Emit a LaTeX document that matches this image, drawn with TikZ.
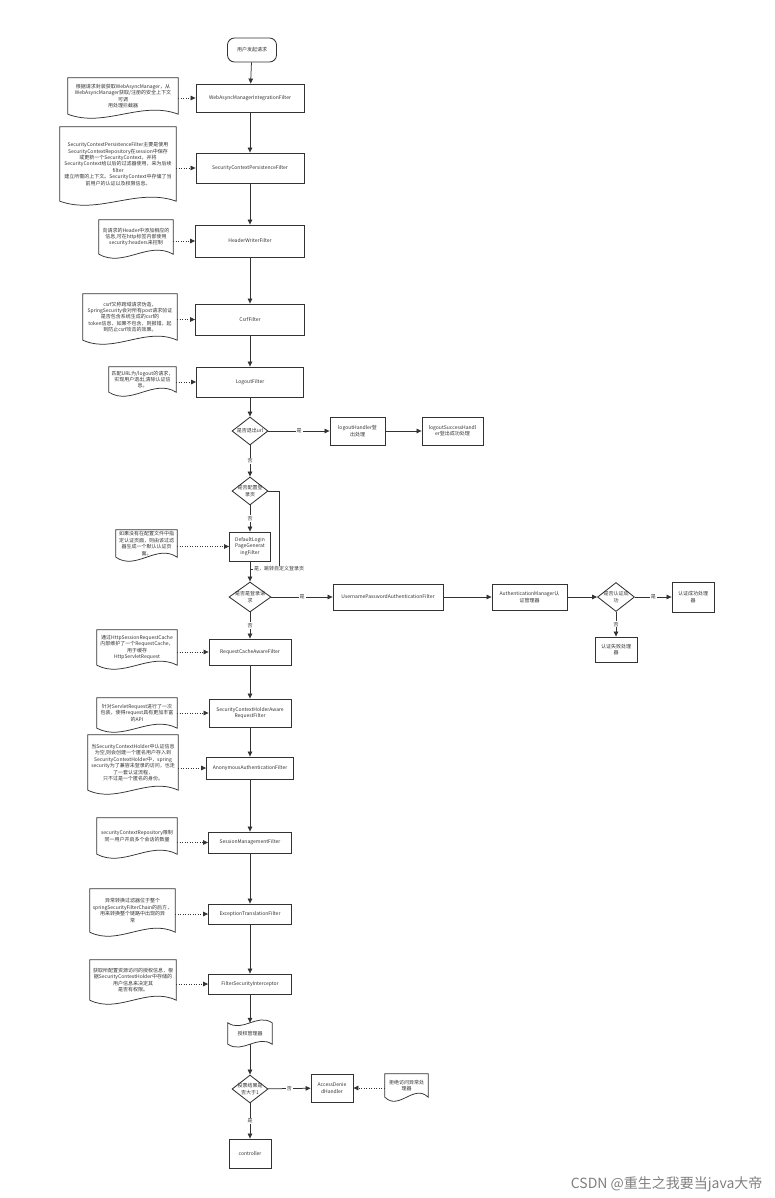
\documentclass[tikz,border=0pt]{standalone}
\usepackage{fontspec}
\newfontfamily\cjk{Noto Sans CJK SC}
\usetikzlibrary{arrows.meta,calc,shapes.geometric}
\definecolor{lc}{HTML}{333333}
\definecolor{tc}{HTML}{333333}
\newcommand\ft{\cjk\fontsize{5.0}{6.4}\selectfont}
\newcommand\docout[1]{\draw[ln,fill=white] (#1.north west) -- (#1.north east) -- (#1.south east)
  .. controls ($(#1.south east)!0.333!(#1.south west)+(0,-14)$) and ($(#1.south east)!0.667!(#1.south west)+(0,14)$) .. (#1.south west) -- cycle;}
\newcommand\tapeout[1]{\draw[ln,fill=white] (#1.north west)
  .. controls ($(#1.north west)!0.333!(#1.north east)+(0,10)$) and ($(#1.north west)!0.667!(#1.north east)+(0,-10)$) .. (#1.north east)
  -- (#1.south east)
  .. controls ($(#1.south east)!0.333!(#1.south west)+(0,-10)$) and ($(#1.south east)!0.667!(#1.south west)+(0,10)$) .. (#1.south west) -- cycle;}
\begin{document}
\begin{tikzpicture}[x=1pt,y=-1pt,
 box/.style={draw=lc,line width=0.85pt,fill=white,font=\ft,text=tc,align=center,inner sep=1pt},
 note/.style={font=\ft,text=tc,align=center,inner sep=1pt},
 dia/.style={diamond,draw=lc,line width=0.85pt,fill=white,inner sep=0pt},
 ln/.style={draw=lc,line width=0.75pt},
 arr/.style={ln,-{Triangle[length=5pt,width=4.5pt]}},
 dot/.style={arr,dash pattern=on 1pt off 1.5pt},
 lab/.style={fill=white,font=\ft,text=tc,inner sep=1pt}]
\useasboundingbox[fill=white] (0,0) rectangle (774,1198);

% ---- main column ----
\node[box,rounded corners=7pt,minimum width=49pt,minimum height=24pt] (st) at (252,50) {用户发起请求};
\node[box,minimum width=108pt,minimum height=28pt] (f1) at (250,98) {WebAsyncManagerIntegrationFilter};
\node[box,minimum width=108pt,minimum height=30pt] (f2) at (250,168) {SecurityContextPersistenceFilter};
\node[box,minimum width=109pt,minimum height=32pt] (f3) at (250,241) {HeaderWriterFilter};
\node[box,minimum width=109pt,minimum height=31pt] (f4) at (250,319.5) {CsrfFilter};
\node[box,minimum width=107pt,minimum height=30pt] (f5) at (250,382) {LogoutFilter};
\node[dia,minimum width=36pt,minimum height=28pt,label={[font=\ft,text=tc]center:是否退出url}] (d1) at (250,431) {};
\node[box,minimum width=55pt,minimum height=28pt] (h1) at (357.5,431) {logoutHandler登\\出处理};
\node[box,minimum width=61pt,minimum height=28pt] (h2) at (452.5,431) {logoutSuccessHandl\\er登出成功处理};
\node[dia,minimum width=36pt,minimum height=28pt,label={[font=\ft,text=tc,align=center]center:是否配置登\\录页}] (d2) at (250,491) {};
\node[box,minimum width=41pt,minimum height=29pt] (f6) at (250,546.5) {DefaultLogin\\PageGenerat\\ingFilter};
\node[dia,minimum width=42pt,minimum height=30pt,label={[font=\ft,text=tc,align=center]center:是否是登录请\\求}] (d3) at (250,597) {};
\node[box,minimum width=110pt,minimum height=26pt] (u1) at (388,597) {UsernamePasswordAuthenticationFilter};
\node[box,minimum width=75pt,minimum height=26pt] (u2) at (529.5,597) {AuthenticationManager认\\证管理器};
\node[dia,minimum width=37pt,minimum height=29pt,label={[font=\ft,text=tc,align=center]center:是否认证成\\功}] (d4) at (616,597) {};
\node[box,minimum width=42pt,minimum height=30pt] (u3) at (693,597) {认证成功处理\\器};
\node[box,minimum width=42pt,minimum height=25pt] (u4) at (616,649.5) {认证失败处理\\器};
\node[box,minimum width=82pt,minimum height=26pt] (f7) at (250,652) {RequestCacheAwareFilter};
\node[box,minimum width=82pt,minimum height=28pt] (f8) at (250,713) {SecurityContextHolderAware\\RequestFilter};
\node[box,minimum width=87pt,minimum height=22pt] (f9) at (250,768) {AnonymousAuthenticationFilter};
\node[box,minimum width=83pt,minimum height=21pt] (f10) at (250,842.5) {SessionManagementFilter};
\node[box,minimum width=83pt,minimum height=20pt] (f11) at (250,914) {ExceptionTranslationFilter};
\node[box,minimum width=83pt,minimum height=20pt] (f12) at (250,984) {FilterSecurityInterceptor};
\node[note,minimum width=44pt,minimum height=21pt] (t1) at (250,1033.5) {};
\tapeout{t1}
\node[note] at (t1) {授权管理器};
\node[dia,minimum width=36pt,minimum height=28pt,label={[font=\ft,text=tc,align=center]center:投票结果是\\否大于1}] (d5) at (250,1089) {};
\node[box,minimum width=42pt,minimum height=28pt] (a1) at (332,1088) {AccessDenie\\dHandler};
\node[box,minimum width=42pt,minimum height=29pt] (c1) at (250,1153.5) {controller};

% ---- notes ----
\node[note,minimum width=110pt,minimum height=36pt] (n1) at (123,96) {};
\docout{n1}
\node[note] at (n1) {根据请求封装获取WebAsyncManager，从\\WebAsyncManager获取/注册的安全上下文\\可调\\用处理拦截器};
\node[note,minimum width=116pt,minimum height=74pt] (n2) at (118,164) {};
\docout{n2}
\node[note] at (n2) {SecurityContextPersistenceFilter主要是使用\\SecurityContextRepository在session中保存\\或更新一个SecurityContext，并将\\SecurityContext给以后的过滤器使用，来为后续\\filter\\建立所需的上下文。SecurityContext中存储了当\\前用户的认证以及权限信息。};
\node[note,minimum width=74pt,minimum height=34pt] (n3) at (136,237) {};
\docout{n3}
\node[note] at (n3) {向请求的Header中添加相应的\\信息,可在http标签内部使用\\security:headers来控制};
\node[note,minimum width=94pt,minimum height=46pt] (n4) at (130,317) {};
\docout{n4}
\node[note] at (n4) {csrf又称跨域请求伪造，\\SpringSecurity会对所有post请求验证\\是否包含系统生成的csrf的\\token信息，如果不包含，则报错。起\\到防止csrf攻击的效果。};
\node[note,minimum width=67pt,minimum height=25pt] (n5) at (142.5,379.5) {};
\docout{n5}
\node[note] at (n5) {匹配URL为/logout的请求，\\实现用户退出,清除认证信\\息。};
\node[note,minimum width=61pt,minimum height=27pt] (n6) at (146.5,543.5) {};
\docout{n6}
\node[note] at (n6) {如果没有在配置文件中指\\定认证页面，则由该过滤\\器生成一个默认认证页\\面。};
\node[note,minimum width=80pt,minimum height=35pt] (n7) at (137,647.5) {};
\docout{n7}
\node[note] at (n7) {通过HttpSessionRequestCache\\内部维护了一个RequestCache，\\用于缓存\\HttpServletRequest};
\node[note,minimum width=80pt,minimum height=30pt] (n8) at (137,713) {};
\docout{n8}
\node[note] at (n8) {针对ServletRequest进行了一次\\包装，使得request具有更加丰富\\的API};
\node[note,minimum width=90pt,minimum height=55pt] (n9) at (133,762.5) {};
\docout{n9}
\node[note] at (n9) {当SecurityContextHolder中认证信息\\为空,则会创建一个匿名用户存入到\\SecurityContextHolder中，spring\\security为了兼容未登录的访问，也走\\了一套认证流程，\\只不过是一个匿名的身份。};
\node[note,minimum width=80pt,minimum height=36pt] (n10) at (137,836) {};
\docout{n10}
\node[note] at (n10) {securityContextRepository限制\\同一用户开启多个会话的数量};
\node[note,minimum width=85pt,minimum height=43pt] (n11) at (132.5,910.5) {};
\docout{n11}
\node[note] at (n11) {异常转换过滤器位于整个\\springSecurityFilterChain的后方，\\用来转换整个链路中出现的异\\常};
\node[note,minimum width=86pt,minimum height=40pt] (n12) at (133,980) {};
\docout{n12}
\node[note] at (n12) {获取所配置资源访问的授权信息，根\\据SecurityContextHolder中存储的\\用户信息来决定其\\是否有权限。};
\node[note,minimum width=43pt,minimum height=23pt] (n13) at (406.5,1085.5) {};
\docout{n13}
\node[note] at (n13) {拒绝访问异常处\\理器};

% ---- connectors ----
\draw[arr] (st) -- (f1);
\draw[arr] (f1) -- (f2);
\draw[arr] (f2) -- (f3);
\draw[arr] (f3) -- (f4);
\draw[arr] (f4) -- (f5);
\draw[arr] (f5) -- (d1);
\draw[arr] (d1) -- node[lab]{是} (h1);
\draw[arr] (h1) -- (h2);
\draw[arr] (d1) -- node[lab]{否} (d2);
\draw[arr] (d2) -- node[lab]{否} (f6);
\draw[arr] (f6) -- (d3);
\coordinate (k1) at (279,569);
\coordinate (k2) at (250,569);
\draw[ln] (d2.east) -| (k1) -- (k2);
\node[lab,anchor=west] at (253,569) {是，跳转自定义登录页};
\draw[arr] (d3) -- node[lab]{是} (u1);
\draw[arr] (u1) -- (u2);
\draw[arr] (u2) -- (d4);
\draw[arr] (d4) -- node[lab]{是} (u3);
\draw[arr] (d4) -- node[lab]{否} (u4);
\draw[arr] (d3) -- node[lab]{否} (f7);
\draw[arr] (f7) -- (f8);
\draw[arr] (f8) -- (f9);
\draw[arr] (f9) -- (f10);
\draw[arr] (f10) -- (f11);
\draw[arr] (f11) -- (f12);
\draw[arr] (f12) -- (t1);
\draw[arr] (t1) -- (d5);
\draw[arr] (d5) -- node[lab]{否} (a1);
\draw[arr] (d5) -- node[lab]{是} (c1);

\draw[dot] (n1.east |- f1.west) -- (f1.west);
\draw[dot] (n2.east |- f2.west) -- (f2.west);
\draw[dot] (n3.east |- f3.west) -- (f3.west);
\draw[dot] (n4.east |- f4.west) -- (f4.west);
\draw[dot] (n5.east |- f5.west) -- (f5.west);
\draw[dot] (n6.east |- f6.west) -- (f6.west);
\draw[dot] (n7.east |- f7.west) -- (f7.west);
\draw[dot] (n8.east |- f8.west) -- (f8.west);
\draw[dot] (n9.east |- f9.west) -- (f9.west);
\draw[dot] (n10.east |- f10.west) -- (f10.west);
\draw[dot] (n11.east |- f11.west) -- (f11.west);
\draw[dot] (n12.east |- f12.west) -- (f12.west);
\draw[dot] (n13.west |- a1.east) -- (a1.east);

% ---- watermark ----
\node[font=\cjk\fontsize{14}{16}\selectfont,text=black!50,anchor=east] (wm) at (766,1184) {CSDN @重生之我要当java大帝};
\end{tikzpicture}
\end{document}
